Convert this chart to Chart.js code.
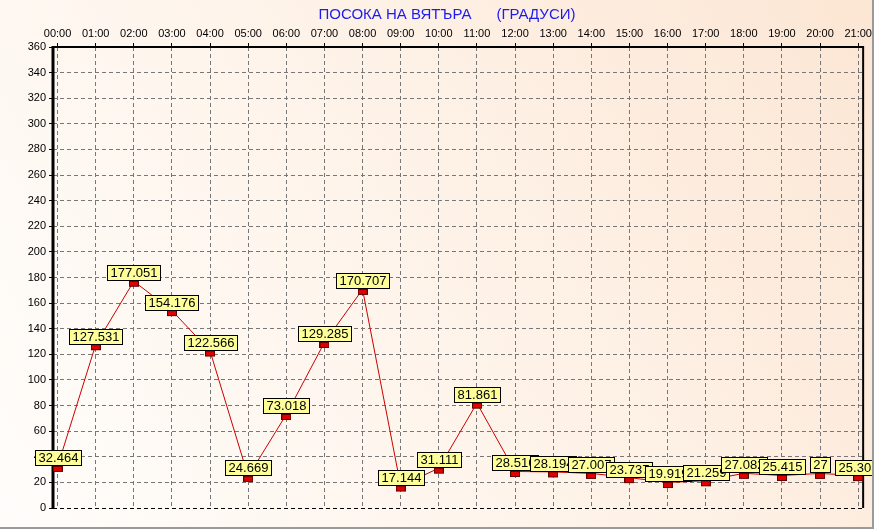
<!DOCTYPE html>
<html>
<head>
<meta charset="utf-8">
<script src="https://cdn.jsdelivr.net/npm/chart.js@4"></script>
<style>
  html, body { margin: 0; padding: 0; background: #fff; }
  #wrap { width: 874px; height: 529px; }
</style>
</head>
<body>
<div id="wrap"><canvas id="chart" width="874" height="529"></canvas></div>
<script>
const hours = ["00:00","01:00","02:00","03:00","04:00","05:00","06:00","07:00","08:00","09:00","10:00",
  "11:00","12:00","13:00","14:00","15:00","16:00","17:00","18:00","19:00","20:00","21:00"];
const direction = [32.464, 127.531, 177.051, 154.176, 122.566, 24.669, 73.018, 129.285, 170.707, 17.144, 31.111,
  81.861, 28.516, 28.194, 27.007, 23.737, 19.919, 21.259, 27.082, 25.415, 27, 25.303];
const titleText = "ПОСОКА НА ВЯТЪРА      (ГРАДУСИ)";

// red marker, drawn a bit below the point like in the original
const marker = document.createElement("canvas");
marker.width = 10; marker.height = 13;
(function () {
  const m = marker.getContext("2d");
  m.fillStyle = "#e00000";
  m.fillRect(0, 6, 10, 6);
  m.strokeStyle = "#600000";
  m.lineWidth = 1;
  m.strokeRect(0.5, 6.5, 9, 5);
})();

const background = {
  id: "background",
  beforeDraw(chart) {
    const c = chart.ctx;
    const g = c.createLinearGradient(0, 529, 874, 0);
    g.addColorStop(0, "#fffdfb");
    g.addColorStop(0.5, "#fef3e9");
    g.addColorStop(1, "#fce6d4");
    c.save();
    c.fillStyle = g;
    c.fillRect(0, 0, 874, 529);
    c.fillStyle = "#1c1cf0";
    c.font = "15px 'Liberation Sans', Arial, sans-serif";
    c.textAlign = "center";
    c.textBaseline = "middle";
    c.fillText(titleText, 447, 15);
    c.restore();
  },
  beforeDatasetsDraw(chart) {
    // solid frame: thick left axis, top and right edges
    const a = chart.chartArea;
    const c = chart.ctx;
    c.save();
    c.strokeStyle = "#000";
    c.lineWidth = 2;
    c.beginPath();
    c.moveTo(a.left, a.top); c.lineTo(a.right, a.top); c.lineTo(a.right, a.bottom);
    c.stroke();
    c.lineWidth = 3;
    c.beginPath();
    c.moveTo(a.left, a.top - 1); c.lineTo(a.left, a.bottom + 1);
    c.stroke();
    c.restore();
  },
  afterDraw(chart) {
    const c = chart.ctx;
    c.save();
    c.strokeStyle = "#9a9a9a";
    c.lineWidth = 2;
    c.beginPath();
    c.moveTo(0, 528); c.lineTo(873, 528); c.lineTo(873, 0);
    c.stroke();
    c.restore();
  }
};

const valueBoxes = {
  id: "valueBoxes",
  afterDatasetsDraw(chart) {
    const c = chart.ctx;
    const meta = chart.getDatasetMeta(0);
    c.save();
    c.font = "13px 'Liberation Sans', Arial, sans-serif";
    c.textAlign = "center";
    c.textBaseline = "middle";
    meta.data.forEach((pt, i) => {
      const txt = String(direction[i]);
      const w = Math.round(c.measureText(txt).width) + 6;
      const h = 15;
      const x = Math.round(pt.x - w / 2) + 0.5;
      const y = Math.round(pt.y - h - 1) + 0.5;
      c.fillStyle = "#ffff99";
      c.fillRect(x, y, w, h);
      c.strokeStyle = "#000";
      c.lineWidth = 1;
      c.strokeRect(x, y, w, h);
      c.fillStyle = "#000";
      c.fillText(txt, x + w / 2, y + h / 2 + 0.5);
    });
    c.restore();
  }
};

const gridFont = { family: "'Liberation Sans', Arial, sans-serif", size: 11 };

const data = {
  datasets: [
    {
      label: "Посока",
      data: direction.map((v, i) => ({ x: i, y: v })),
      borderColor: "#cc0000",
      borderWidth: 1,
      pointStyle: marker,
      pointRadius: 5,
      tension: 0,
    },
  ],
};

const config = {
  type: "line",
  data: data,
  options: {
    responsive: false,
    animation: false,
    events: [],
    layout: { padding: { top: 0, right: 8, bottom: 21, left: 0 } },
    plugins: {
      legend: { display: false },
      title: { display: false },
      tooltip: { enabled: false },
    },
    scales: {
      x: {
        type: "linear",
        position: "top",
        min: -0.12,
        max: 21.13,
        afterFit: (s) => { s.height = 47; },
        afterBuildTicks: (s) => { s.ticks = hours.map((_, i) => ({ value: i })); },
        ticks: {
          color: "#000",
          padding: 2,
          maxRotation: 0,
          autoSkip: false,
          font: gridFont,
          callback: (v) => hours[v],
        },
        grid: {
          color: "#777",
          lineWidth: 1,
          tickColor: "#000",
          tickLength: 4,
        },
        // in v4 border.dash is the dash of the grid lines
        border: { display: false, dash: [4, 3] },
      },
      y: {
        min: 0,
        max: 360,
        afterFit: (s) => { s.width = 53; },
        ticks: {
          stepSize: 20,
          color: "#000",
          padding: 3,
          font: gridFont,
        },
        grid: {
          color: (ctx) => (ctx.tick && ctx.tick.value === 0 ? "#000" : "#777"),
          lineWidth: 1,
          tickColor: "#000",
          tickLength: 4,
        },
        border: { display: false, dash: [4, 3] },
      },
    },
  },
  plugins: [background, valueBoxes],
};

const ctx = document.getElementById("chart").getContext("2d");
const chart = new Chart(ctx, config);
</script>
</body>
</html>
